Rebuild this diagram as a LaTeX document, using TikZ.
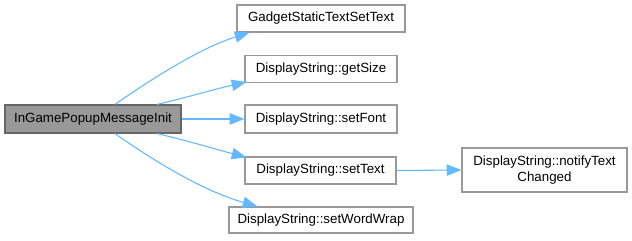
\documentclass[tikz,border=0pt]{standalone}
\usepackage{fontspec}
\setmainfont{Liberation Sans}
\usetikzlibrary{arrows.meta,calc}
\definecolor{edgeblue}{HTML}{63B8FF}
\definecolor{rootfill}{HTML}{999999}
\definecolor{rootline}{HTML}{666666}
\definecolor{boxline}{HTML}{999999}
\begin{document}
\begin{tikzpicture}[x=0.75pt,y=-0.75pt,
  fn/.style={draw=boxline,line width=0.9pt,fill=white,inner sep=0pt,
    minimum height=27*0.75pt,font=\fontsize{10pt}{12pt}\selectfont,align=center},
  rootfn/.style={fn,draw=rootline,fill=rootfill},
  call/.style={draw=edgeblue,line width=0.8pt,
    -{Triangle[length=11pt,width=8.5pt,fill=edgeblue]}}]
\useasboundingbox (0,0) rectangle (632,240);
\node[rootfn,minimum width=176*0.75pt,minimum height=28*0.75pt] (root) at (93,119) {InGamePopupMessageInit};
\node[fn,minimum width=168*0.75pt] (gadget) at (321,18.5) {GadgetStaticTextSetText};
\node[fn,minimum width=152*0.75pt] (getsize) at (321,69) {DisplayString::getSize};
\node[fn,minimum width=152*0.75pt,minimum height=28*0.75pt] (setfont) at (321,119) {DisplayString::setFont};
\node[fn,minimum width=151*0.75pt] (settext) at (320.5,170.5) {DisplayString::setText};
\node[fn,minimum width=184*0.75pt,minimum height=26*0.75pt] (wordwrap) at (321,220) {DisplayString::setWordWrap};
\node[fn,minimum width=165*0.75pt,minimum height=44*0.75pt] (notify) at (544.5,170) {DisplayString::notifyText\\Changed};

\draw[call] ($(root.north)+(22,0)$) .. controls (150,80) and (200,48) .. ($(gadget.south west)+(13,0)$);
\draw[call] ($(root.north)+(64,0)$) .. controls (185,98) and (215,89) .. ($(getsize.south west)+(2,-1)$);
\draw[call] (root.east) -- (setfont.west);
\draw[call] ($(root.south)+(64,0)$) .. controls (185,140) and (215,149) .. ($(settext.north west)+(2,1)$);
\draw[call] ($(root.south)+(22,0)$) .. controls (150,158) and (200,190) .. ($(wordwrap.north west)+(29,0)$);
\draw[call] (settext.east) -- (notify.west);
\end{tikzpicture}
\end{document}
